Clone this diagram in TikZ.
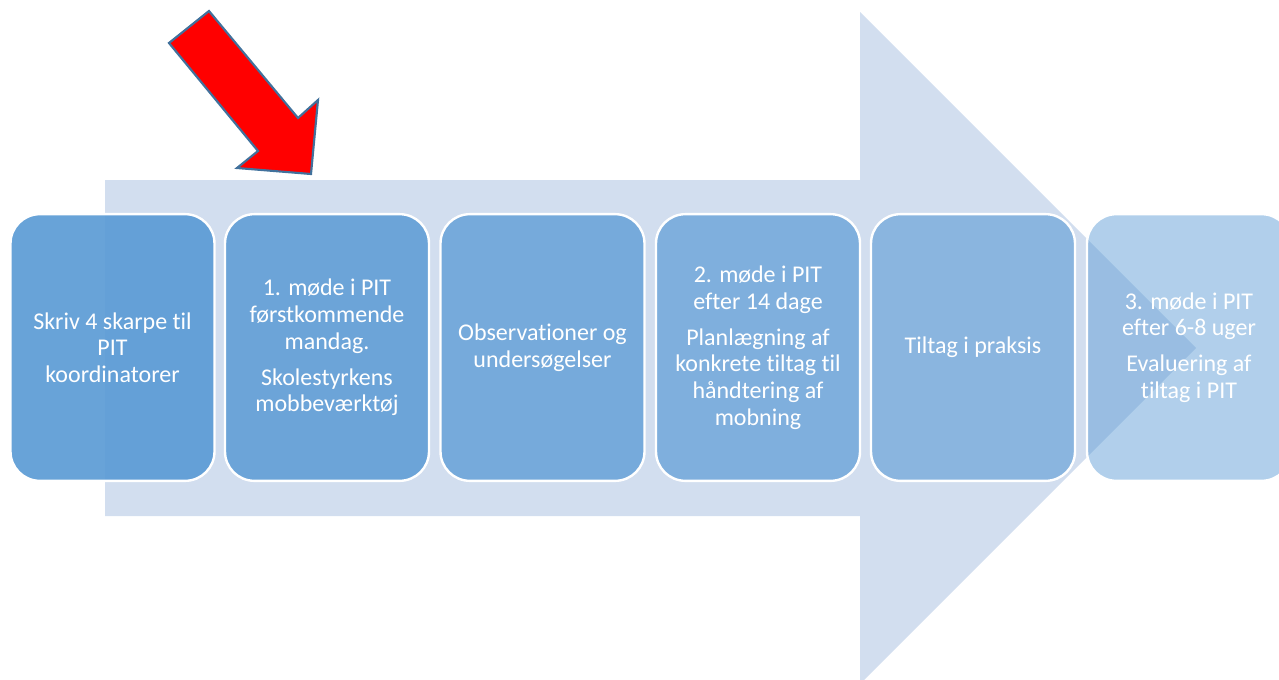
\documentclass[tikz,border=0pt]{standalone}
\usepackage{fontspec}
\setmainfont{Carlito}[Ligatures={NoCommon}]
\definecolor{arrowbg}{HTML}{D2DEEF}
\definecolor{boxblue}{HTML}{5B9BD5}
\definecolor{arrowedge}{HTML}{41719C}
\tikzset{
  stepbox/.style={rectangle, rounded corners=22pt, fill=boxblue, draw=white,
    line width=1.8pt, draw opacity=1, text opacity=1, text=white,
    minimum width=153pt, minimum height=200pt, align=center,
    font=\fontsize{18}{20}\selectfont, inner sep=0pt},
  redarrow/.style={fill=red, draw=arrowedge, line width=1.6pt, line join=miter}
}
\begin{document}
\begin{tikzpicture}[x=0.75pt,y=-0.75pt]
\useasboundingbox (0,0) rectangle (1279,679);
\clip (0,0) rectangle (1279,679);
% big background arrow
\fill[arrowbg] (105,180) -- (860,180) -- (860,12) -- (1196,348) -- (860,684)
  -- (860,516) -- (105,516) -- cycle;
% steps
\node[stepbox, fill opacity=0.92] (b1) at (112.5,347.5)
  {Skriv 4 skarpe til\\PIT\\koordinatorer};
\node[stepbox, fill opacity=0.85] (b2) at (327,347.5)
  {1. møde i PIT\\førstkommende\\mandag.\\[7pt]Skolestyrkens\\mobbeværktøj};
\node[stepbox, fill opacity=0.77] (b3) at (542.5,347.5)
  {Observationer og\\undersøgelser};
\node[stepbox, fill opacity=0.69] (b4) at (758,347.5)
  {2. møde i PIT\\efter 14 dage\\[7pt]Planlægning af\\konkrete tiltag til\\håndtering af\\mobning};
\node[stepbox, fill opacity=0.60] (b5) at (973,347.5)
  {Tiltag i praksis};
\node[stepbox, fill opacity=0.48] (b6) at (1189,347.5)
  {3. møde i PIT\\efter 6-8 uger\\[7pt]Evaluering af\\tiltag i PIT};
% red pointer arrow
\draw[redarrow] (209,11) -- (169,43) -- (258,151) -- (237,168) -- (311,174)
  -- (318,100) -- (298,118) -- cycle;
\end{tikzpicture}
\end{document}
